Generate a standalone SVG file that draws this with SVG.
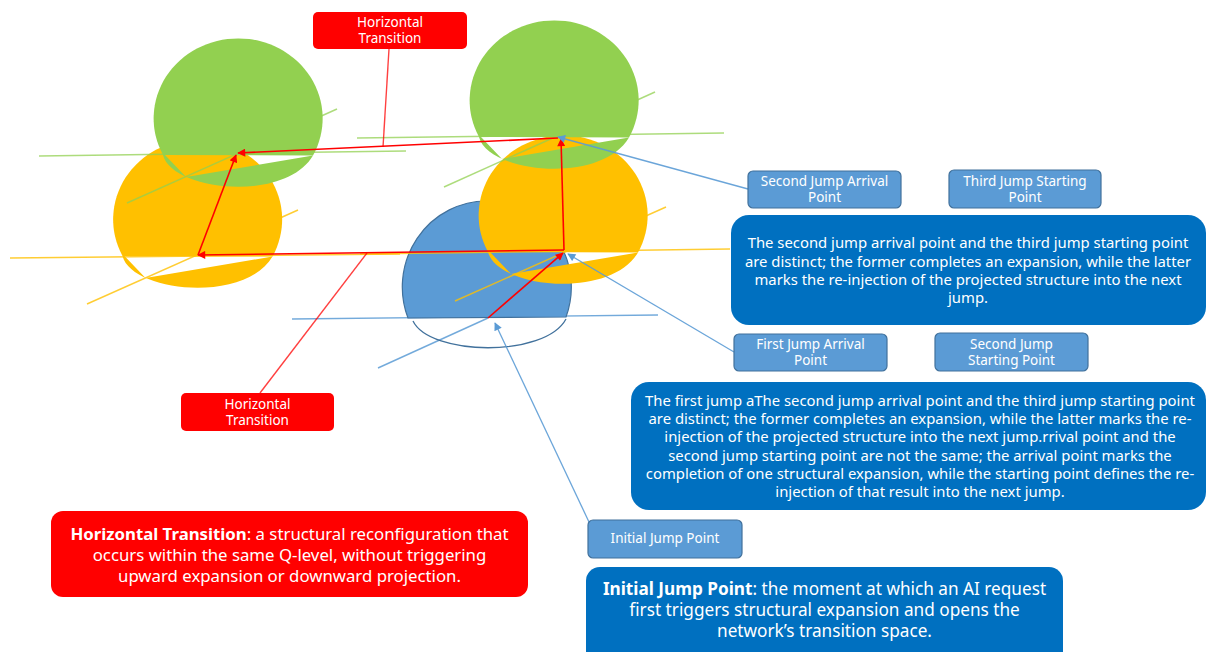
<svg xmlns="http://www.w3.org/2000/svg" xmlns:xlink="http://www.w3.org/1999/xlink" width="1206" height="652" viewBox="0 0 1206 652">
<style>
.bg{fill:#FFFFFF}
.g{fill:#92D050}
.y{fill:#FFC000}
.b{fill:#5B9BD5}
.lg{stroke:#92D050;stroke-opacity:0.75;stroke-width:1.5;fill:none}
.ly{stroke:#FFC000;stroke-opacity:0.8;stroke-width:1.5;fill:none}
.lb{stroke:#5B9BD5;stroke-opacity:0.85;stroke-width:1.4;fill:none}
.red{stroke:#FF0000;stroke-width:1.6;fill:none}
.redc{stroke:#FF0000;stroke-opacity:0.75;stroke-width:1.4;fill:none}
.bluec{stroke:#5B9BD5;stroke-opacity:0.9;stroke-width:1.3;fill:none}
.rbox{fill:#FF0000}
.sbox{fill:#5B9BD5;stroke:#41719C;stroke-width:1.2}
.dbox{fill:#0070C0}
.t13{font-family:"Noto Sans","Open Sans",sans-serif;font-size:13.5px;fill:#FFFFFF;text-anchor:middle}
.t15{font-family:"Noto Sans","Open Sans",sans-serif;font-size:14.85px;fill:#FFFFFF;text-anchor:middle}
.t16{font-family:"Noto Sans","Open Sans",sans-serif;font-size:16.8px;fill:#FFFFFF;text-anchor:middle}
.t17{font-family:"Noto Sans","Open Sans",sans-serif;font-size:17.2px;fill:#FFFFFF;text-anchor:middle}
.bold{font-weight:bold}
</style>
<defs>
<path id="capTop" d="M-75,0 A84.5,80 0 1 1 75,0.5 Z"/>
<path id="capLow" d="M-75,0 C-66,36 47,48 75,0.5 L-52,22 L-73,0 Z"/>
<marker id="arR" viewBox="0 0 10 10" refX="9" refY="5" markerWidth="9" markerHeight="8" markerUnits="userSpaceOnUse" orient="auto">
<path d="M0,0 L10,5 L0,10 Z" fill="#FF0000"/>
</marker>
<marker id="arB" viewBox="0 0 10 10" refX="9" refY="5" markerWidth="9" markerHeight="8" markerUnits="userSpaceOnUse" orient="auto">
<path d="M0,0 L10,5 L0,10 Z" fill="#5B9BD5"/>
</marker>
</defs>
<rect class="bg" x="0" y="0" width="1206" height="652"/>

<g id="sphere-left-yellow">
<line class="ly" x1="10" y1="258" x2="400" y2="254"/>
<line class="ly" x1="87" y1="304" x2="298" y2="210"/>
<g transform="translate(197.5,256)" class="y"><use xlink:href="#capTop"/><use xlink:href="#capLow"/></g>
</g>
<g id="sphere-left-green">
<line class="lg" x1="39" y1="156" x2="406" y2="151"/>
<line class="lg" x1="127" y1="203" x2="337" y2="109"/>
<g transform="translate(238,155)" class="g"><use xlink:href="#capTop"/><use xlink:href="#capLow"/></g>
</g>

<g id="sphere-blue">
<line class="lb" x1="292" y1="319" x2="658" y2="315"/>
<line class="lb" x1="378" y1="368" x2="488" y2="318"/>
<path class="b" d="M408,318 A84.5,86 0 1 1 566,317 Z" stroke="#41719C" stroke-width="1.2"/>
<path d="M413,321 C430,356 545,358 566,319" fill="none" stroke="#41719C" stroke-width="1.3"/>
</g>
<g id="sphere-right-yellow">
<line class="ly" x1="360" y1="254" x2="730" y2="249"/>
<line class="ly" x1="455" y1="301" x2="666" y2="207"/>
<g transform="translate(563,252)" class="y"><use xlink:href="#capTop"/><use xlink:href="#capLow"/></g>
</g>
<g id="sphere-right-green">
<line class="lg" x1="357" y1="138" x2="724" y2="133"/>
<line class="lg" x1="444" y1="187" x2="655" y2="92"/>
<g transform="translate(554,137)" class="g"><use xlink:href="#capTop"/><use xlink:href="#capLow"/></g>
</g>

<g id="connectors">
<line class="red" x1="558" y1="138" x2="238" y2="153" marker-end="url(#arR)"/>
<line class="red" x1="198" y1="255" x2="236" y2="155" marker-end="url(#arR)"/>
<line class="red" x1="564" y1="250" x2="198" y2="255" marker-end="url(#arR)"/>
<line class="red" x1="564" y1="250" x2="561" y2="139" marker-end="url(#arR)"/>
<line class="red" x1="488" y1="318" x2="563" y2="253" marker-end="url(#arR)"/>
<line class="redc" x1="389" y1="49" x2="383" y2="147"/>
<line class="redc" x1="367" y1="253" x2="260" y2="393"/>
<line class="bluec" x1="748" y1="189" x2="558" y2="137" marker-end="url(#arB)"/>
<line class="bluec" x1="734" y1="352" x2="568" y2="254" marker-end="url(#arB)"/>
<line class="bluec" x1="589" y1="522" x2="495" y2="323" marker-end="url(#arB)"/>
</g>

<g id="label-ht-top">
<rect class="rbox" x="313" y="12" width="154" height="37" rx="5"/>
<text class="t13" x="390" y="27">Horizontal</text>
<text class="t13" x="390" y="43">Transition</text>
</g>
<g id="label-ht-bottom">
<rect class="rbox" x="181" y="393" width="153" height="38" rx="5"/>
<text class="t13" x="257.5" y="409">Horizontal</text>
<text class="t13" x="257.5" y="425">Transition</text>
</g>
<g id="label-second-arrival">
<rect class="sbox" x="748" y="171" width="153" height="37" rx="5"/>
<text class="t13" x="824.5" y="186">Second Jump Arrival</text>
<text class="t13" x="824.5" y="202">Point</text>
</g>
<g id="label-third-start">
<rect class="sbox" x="949" y="170" width="152" height="38" rx="5"/>
<text class="t13" x="1025" y="186">Third Jump Starting</text>
<text class="t13" x="1025" y="202">Point</text>
</g>
<g id="label-first-arrival">
<rect class="sbox" x="734" y="334" width="153" height="37" rx="5"/>
<text class="t13" x="810.5" y="349">First Jump Arrival</text>
<text class="t13" x="810.5" y="365">Point</text>
</g>
<g id="label-second-start">
<rect class="sbox" x="935" y="333" width="153" height="38" rx="5"/>
<text class="t13" x="1011.5" y="349">Second Jump</text>
<text class="t13" x="1011.5" y="365">Starting Point</text>
</g>
<g id="label-initial">
<rect class="sbox" x="588" y="520" width="154" height="38" rx="5"/>
<text class="t13" x="665" y="543">Initial Jump Point</text>
</g>

<g id="note-second-third">
<rect class="dbox" x="731" y="215" width="475" height="110" rx="18"/>
<text class="t15" x="968" y="248">The second jump arrival point and the third jump starting point</text>
<text class="t15" x="968" y="266.5">are distinct; the former completes an expansion, while the latter</text>
<text class="t15" x="968" y="285">marks the re-injection of the projected structure into the next</text>
<text class="t15" x="968" y="303">jump.</text>
</g>
<g id="note-first-second">
<rect class="dbox" x="631" y="382" width="575" height="128" rx="18"/>
<text class="t15" x="920" y="406">The first jump aThe second jump arrival point and the third jump starting point</text>
<text class="t15" x="920" y="424.2">are distinct; the former completes an expansion, while the latter marks the re-</text>
<text class="t15" x="920" y="442.4">injection of the projected structure into the next jump.rrival point and the</text>
<text class="t15" x="920" y="460.6">second jump starting point are not the same; the arrival point marks the</text>
<text class="t15" x="920" y="478.8">completion of one structural expansion, while the starting point defines the re-</text>
<text class="t15" x="920" y="497">injection of that result into the next jump.</text>
</g>
<g id="note-horizontal">
<rect class="rbox" x="51" y="511" width="477" height="86" rx="12"/>
<text class="t16" x="289.5" y="540"><tspan class="bold">Horizontal Transition</tspan>: a structural reconfiguration that</text>
<text class="t16" x="289.5" y="561">occurs within the same Q-level, without triggering</text>
<text class="t16" x="289.5" y="582">upward expansion or downward projection.</text>
</g>
<g id="note-initial">
<rect class="dbox" x="586" y="567" width="477" height="100" rx="14"/>
<text class="t17" x="824.5" y="595"><tspan class="bold">Initial Jump Point</tspan>: the moment at which an AI request</text>
<text class="t17" x="824.5" y="616">first triggers structural expansion and opens the</text>
<text class="t17" x="824.5" y="637">network’s transition space.</text>
</g>
</svg>
